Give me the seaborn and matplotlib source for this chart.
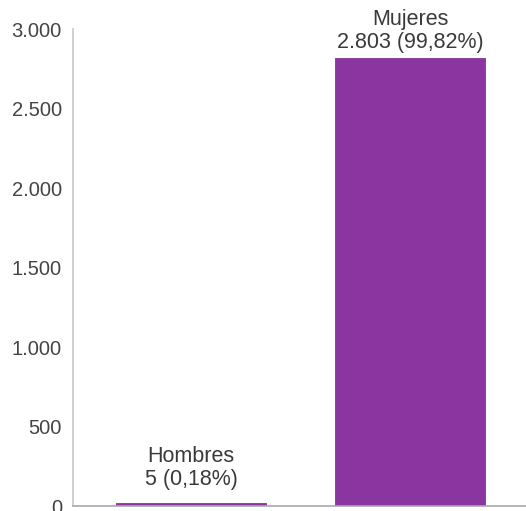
import matplotlib
matplotlib.use("Agg")
import matplotlib.pyplot as plt
import seaborn as sns
import pandas as pd
from matplotlib.ticker import FuncFormatter

# Datos
categorias = ["Hombres", "Mujeres"]
valores = [5, 2803]
porcentajes = ["0,18%", "99,82%"]
y_ticks = [0, 500, 1000, 1500, 2000, 2500, 3000]

df = pd.DataFrame({"sexo": categorias, "total": valores})

sns.set_style("white")
plt.rcParams["font.family"] = ["Liberation Sans", "DejaVu Sans"]

fig = plt.figure(figsize=(5.26, 5.11), dpi=100)
ax = fig.add_axes([73 / 526, 5 / 511, 1 - 73 / 526, 477 / 511])

color = "#8a35a0"
sns.barplot(data=df, x="sexo", y="total", color=color, width=0.67,
            edgecolor=color, linewidth=3.5, saturation=1, ax=ax)

ax.set_ylim(0, 3000)
ax.set_xlim(-0.54, 1.53)
ax.set_yticks(y_ticks)
ax.yaxis.set_major_formatter(
    FuncFormatter(lambda v, p: f"{int(v):,}".replace(",", ".")))
ax.tick_params(axis="y", length=0, pad=8, labelsize=14.5, labelcolor="#444444")
ax.set_xticks([])
ax.set_xlabel("")
ax.set_ylabel("")

for side in ("top", "right"):
    ax.spines[side].set_visible(False)
ax.spines["left"].set_color("#c8c8c8")
ax.spines["left"].set_linewidth(1.2)
ax.spines["bottom"].set_color("#a8a8b8")
ax.spines["bottom"].set_linewidth(1.2)

# Etiquetas sobre las barras
offsets = [15, 7]
for i, (cat, val, pct) in enumerate(zip(categorias, valores, porcentajes)):
    txt = f"{cat}\n" + f"{val:,}".replace(",", ".") + f" ({pct})"
    ax.annotate(txt, xy=(i, val), xytext=(0, offsets[i]), textcoords="offset pixels",
                ha="center", va="bottom", fontsize=15.5, color="#3a3a3a",
                linespacing=1.15, annotation_clip=False)

fig.savefig("out.png", dpi=100)
